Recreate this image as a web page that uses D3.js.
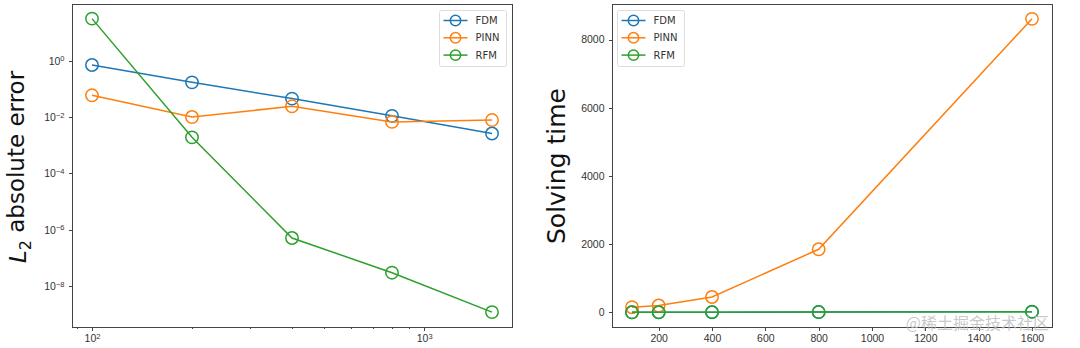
<!DOCTYPE html>
<meta charset="utf-8">
<style>
 body { margin: 0; background: #fff; }
 svg { font-family: "DejaVu Sans", sans-serif; background: #fff; }
 .axis path, .axis line { stroke: #444; shape-rendering: crispEdges; }
 .axis text { fill: #333; font-size: 10.5px; }
</style>
<body>
<svg width="1080" height="348"></svg>
<script src="https://cdn.jsdelivr.net/npm/d3@7"></script>
<script>
 // grid sizes (x values shared by both panels)
 var sizes = [100, 200, 400, 800, 1600];
 var methods = ["FDM", "PINN", "RFM"];
 var colors = ["#1f77b4", "#ff7f0e", "#2ca02c"];

 // L2 absolute error
 var errFDM  = [0.70, 0.17, 0.045, 0.011, 0.0026];
 var errPINN = [0.059, 0.010, 0.024, 0.0067, 0.0078];
 var errRFM  = [31, 0.0019, 5.1e-7, 3.0e-8, 1.2e-9];

 // solving time
 var timeFDM  = [0.5, 1, 3, 8, 20];
 var timePINN = [150, 200, 450, 1850, 8610];
 var timeRFM  = [2, 3, 5, 8, 15];

 var yLogTicks = [1, 1e-2, 1e-4, 1e-6, 1e-8];
 var xLogTicks = [100, 1000];
 var xLogMinor = [90, 200, 300, 400, 500, 600, 700, 800, 900];
 var yLinTicks = [0, 2000, 4000, 6000, 8000];
 var xLinTicks = [200, 400, 600, 800, 1000, 1200, 1400, 1600];

 var svg = d3.select("svg");

 function superscript(sel, exp) {
     sel.text(null);
     sel.append("tspan").text("10");
     sel.append("tspan").attr("dy", "-0.45em").style("font-size", "7.5px").text(exp);
 }

 function drawSeries(g, x, y, series) {
     series.forEach(function(vals, i) {
         var pts = sizes.map(function(s, j) { return [x(s), y(vals[j])]; });
         g.append("path")
          .attr("d", d3.line()(pts))
          .attr("fill", "none")
          .attr("stroke", colors[i])
          .attr("stroke-width", 1.5);
         g.selectAll(null).data(pts).enter().append("circle")
          .attr("cx", function(d) { return d[0]; })
          .attr("cy", function(d) { return d[1]; })
          .attr("r", 6.2)
          .attr("fill", "none")
          .attr("stroke", colors[i])
          .attr("stroke-width", 1.5);
     });
 }

 function legend(g, lx, ly) {
     g.append("rect").attr("x", lx).attr("y", ly).attr("width", 67).attr("height", 56)
      .attr("rx", 2).attr("fill", "#fff").attr("stroke", "#ddd");
     methods.forEach(function(m, i) {
         var cy = ly + 10 + i * 17.3;
         g.append("line").attr("x1", lx + 4).attr("x2", lx + 28).attr("y1", cy).attr("y2", cy)
          .attr("stroke", colors[i]).attr("stroke-width", 1.5);
         g.append("circle").attr("cx", lx + 16).attr("cy", cy).attr("r", 5.2)
          .attr("fill", "none").attr("stroke", colors[i]).attr("stroke-width", 1.5);
         g.append("text").attr("x", lx + 36).attr("y", cy + 3.6)
          .style("font-size", "10px").attr("fill", "#333").text(m);
     });
 }

 // ---- left panel: log-log error ----
 var L = {left: 72, right: 512, top: 4, bottom: 327};
 var xl = d3.scaleLog().domain([Math.pow(10, 1.9398), Math.pow(10, 3.2643)]).range([L.left, L.right]);
 var yl = d3.scaleLog().domain([Math.pow(10, -9.45), Math.pow(10, 2.01)]).range([L.bottom, L.top]);
 var gl = svg.append("g");

 gl.append("g").attr("class", "axis").attr("transform", "translate(0," + L.bottom + ")")
   .call(d3.axisBottom(xl).tickValues(xLogMinor).tickSize(2).tickFormat(""))
   .call(function(a) { a.select(".domain").remove(); });
 gl.append("g").attr("class", "axis").attr("transform", "translate(0," + L.bottom + ")")
   .call(d3.axisBottom(xl).tickValues(xLogTicks).tickSize(3.5).tickPadding(4))
   .call(function(a) {
       a.select(".domain").remove();
       a.selectAll("text").each(function(d) { superscript(d3.select(this), Math.round(Math.log10(d))); });
   });
 gl.append("g").attr("class", "axis").attr("transform", "translate(" + L.left + ",0)")
   .call(d3.axisLeft(yl).tickValues(yLogTicks).tickSize(3.5).tickPadding(4))
   .call(function(a) {
       a.select(".domain").remove();
       a.selectAll("text").each(function(d) { superscript(d3.select(this), String(Math.round(Math.log10(d))).replace("-", "\u2212")); });
   });

 drawSeries(gl, xl, yl, [errFDM, errPINN, errRFM]);
 gl.append("rect").attr("x", L.left).attr("y", L.top).attr("width", L.right - L.left).attr("height", L.bottom - L.top)
   .attr("fill", "none").attr("stroke", "#444").attr("shape-rendering", "crispEdges");
 legend(gl, 439.5, 10.5);

 var tl = gl.append("text").attr("transform", "translate(26,167) rotate(-90)")
   .attr("text-anchor", "middle").attr("fill", "#111").style("font-size", "23px");
 tl.append("tspan").style("font-style", "italic").text("L");
 tl.append("tspan").attr("dy", "0.3em").style("font-size", "16px").text("2");
 tl.append("tspan").attr("dy", "-0.3em").text(" absolute error");

 // ---- right panel: linear solving time ----
 var R = {left: 612, right: 1052, top: 4, bottom: 327};
 var xr = d3.scaleLinear().domain([25, 1675]).range([R.left, R.right]);
 var yr = d3.scaleLinear().domain([-430, 9045]).range([R.bottom, R.top]);
 var gr = svg.append("g");

 gr.append("g").attr("class", "axis").attr("transform", "translate(0," + R.bottom + ")")
   .call(d3.axisBottom(xr).tickValues(xLinTicks).tickSize(3.5).tickPadding(4).tickFormat(d3.format("d")))
   .call(function(a) { a.select(".domain").remove(); });
 gr.append("g").attr("class", "axis").attr("transform", "translate(" + R.left + ",0)")
   .call(d3.axisLeft(yr).tickValues(yLinTicks).tickSize(3.5).tickPadding(4).tickFormat(d3.format("d")))
   .call(function(a) { a.select(".domain").remove(); });

 drawSeries(gr, xr, yr, [timeFDM, timePINN, timeRFM]);
 gr.append("rect").attr("x", R.left).attr("y", R.top).attr("width", R.right - R.left).attr("height", R.bottom - R.top)
   .attr("fill", "none").attr("stroke", "#444").attr("shape-rendering", "crispEdges");
 legend(gr, 617.5, 10.5);

 gr.append("text").attr("transform", "translate(565,166) rotate(-90)")
   .attr("text-anchor", "middle").attr("fill", "#111").style("font-size", "25px").text("Solving time");

 // watermark
 svg.append("text").attr("x", 1049).attr("y", 329).attr("text-anchor", "end")
   .attr("fill", "#bbb").attr("fill-opacity", 0.8)
   .style("font-family", "'Noto Sans CJK SC', sans-serif").style("font-size", "16px")
   .text("@稀土掘金技术社区");
</script>
</body>
